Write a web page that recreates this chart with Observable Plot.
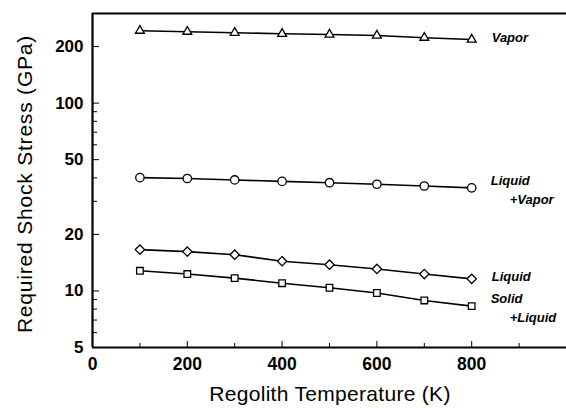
<!DOCTYPE html>
<html><head><meta charset="utf-8">
<script src="https://cdn.jsdelivr.net/npm/d3@7"></script>
<script src="https://cdn.jsdelivr.net/npm/@observablehq/plot@0.6"></script>
<style>
body{margin:0;background:#fff;}
#chart svg{display:block;}
</style>
</head><body><div id="chart"></div>
<script>
const temps = [100, 200, 300, 400, 500, 600, 700, 800];
const vapor = [243, 240, 237, 234, 232, 229, 223, 218];
const liquidVapor = [40.1, 39.7, 39.0, 38.3, 37.7, 37.0, 36.2, 35.4];
const liquid = [16.6, 16.2, 15.6, 14.4, 13.8, 13.1, 12.3, 11.6];
const solidLiquid = [12.8, 12.3, 11.7, 11.0, 10.4, 9.75, 8.9, 8.3];
const seriesNames = ["Vapor", "Liquid+Vapor", "Liquid", "Solid+Liquid"];
const seriesSymbols = ["triangle", "circle", "diamond2", "square2"];
const seriesLabels = [["Vapor"], ["Liquid", "+Vapor"], ["Liquid"], ["Solid", "+Liquid"]];
const xMajor = [0, 200, 400, 600, 800];
const xMinor = [100, 300, 500, 700, 900];
const yMajor = [5, 10, 20, 50, 100, 200];
const yMinor = [6, 7, 8, 9, 30, 40, 60, 70, 80, 90];

const allVals = [vapor, liquidVapor, liquid, solidLiquid];
const data = [];
allVals.forEach((vals, i) => vals.forEach((v, j) => data.push({series: seriesNames[i], sym: seriesSymbols[i], x: temps[j], y: v})));
const labels = [];
allVals.forEach((vals, i) => seriesLabels[i].forEach((t, k) => labels.push({
  x: temps[temps.length-1], y: vals[vals.length-1], text: t, line: k, lines: seriesLabels[i].length})));

const font = "Liberation Sans, Arial, sans-serif";
const labelStyle = {x: "x", y: "y", text: "text", textAnchor: "start", fontSize: 13, fontStyle: "italic", fontWeight: "bold", fill: "#000"};
const dotStyle = {x: "x", y: "y", symbol: "sym", fill: "#fff", stroke: "#000", strokeWidth: 1.3};
const chart = Plot.plot({
  width: 566, height: 408,
  marginLeft: 92, marginTop: 13, marginBottom: 61, marginRight: 0,
  style: {fontFamily: font, background: "#fff", color: "#000"},
  x: {domain: [0, 1000]},
  y: {type: "log", domain: [5, 300]},
  marks: [
    Plot.ruleX([0], {strokeWidth: 2.2}),
    Plot.ruleY([5], {strokeWidth: 2.2}),
    Plot.ruleY([300], {strokeWidth: 2.2}),
    Plot.axisX({ticks: xMajor, tickSize: -6, tickPadding: 16, fontSize: 17.5, fontWeight: "bold", label: null, tickFormat: d => d}),
    Plot.axisX({ticks: xMinor, tickSize: -4, text: null, label: null}),
    Plot.axisY({ticks: yMajor, tickSize: 6, tickPadding: 10, fontSize: 17, fontWeight: "bold", label: null, tickFormat: d => d, dx: 7}),
    Plot.axisY({ticks: yMinor, tickSize: -5, text: null, label: null}),
    Plot.line(data, {x: "x", y: "y", z: "series", stroke: "#000", strokeWidth: 1.6}),
    Plot.dot(data.filter(d => d.sym === "triangle"), {...dotStyle, r: 3.3}),
    Plot.dot(data.filter(d => d.sym !== "triangle"), {...dotStyle, r: 4.2}),
    Plot.text(labels.filter(d => d.lines === 1), {...labelStyle, dx: 20, dy: -2}),
    Plot.text(labels.filter(d => d.lines === 2 && d.line === 0), {...labelStyle, dx: 19, dy: -7}),
    Plot.text(labels.filter(d => d.lines === 2 && d.line === 1), {...labelStyle, dx: 38, dy: 12}),
  ]
});
document.getElementById("chart").append(chart);

// axis titles
const svg = d3.select(chart);
svg.append("text").attr("x", 330).attr("y", 401).attr("text-anchor", "middle")
  .attr("font-family", font).attr("font-size", 21).attr("letter-spacing", 0.3).text("Regolith Temperature (K)");
svg.append("text").attr("transform", "translate(32,184) rotate(-90)").attr("text-anchor", "middle")
  .attr("font-family", font).attr("font-size", 21).attr("letter-spacing", 0.8).text("Required Shock Stress (GPa)");
</script>
</body></html>
